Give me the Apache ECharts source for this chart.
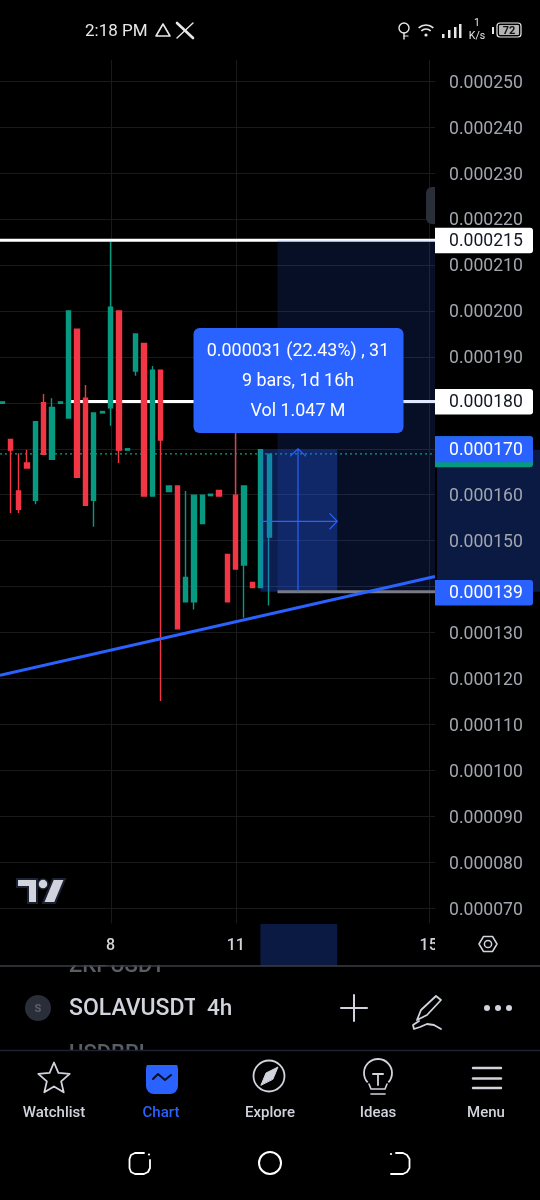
<!DOCTYPE html>
<html><head><meta charset="utf-8">
<style>html,body{margin:0;padding:0;background:#000}#c{width:540px;height:1200px}</style>
<script src="https://cdn.jsdelivr.net/npm/echarts@6/dist/echarts.min.js"></script>
</head><body><div id="c"></div>
<script>
const barIndex=[0,1,2,3,4,5,6,7,8,9,10,11,12,13,14,15,16,17,18,19,20,21,22,23,24,25,26,27,28,29,30,31,32];
const opens=[0.0001799,0.000172,0.0001608,0.0001669,0.0001588,0.00018,0.0001677,0.0001799,0.0001767,0.000196,0.000181,0.0001588,0.0001778,0.0001789,0.0002,0.0001697,0.0001869,0.0001929,0.0001597,0.0001871,0.0001607,0.0001619,0.0001367,0.0001367,0.0001537,0.0001598,0.0001609,0.000147,0.0001599,0.0001447,0.0001409,0.0001398,0.0001508];
const closes=[0.0001802,0.0001697,0.0001568,0.0001658,0.0001759,0.0001688,0.000179,0.0001802,0.0002,0.0001638,0.0001577,0.0001778,0.0001781,0.0002008,0.0001697,0.00017,0.000195,0.0001597,0.0001871,0.0001719,0.0001619,0.0001308,0.000142,0.0001599,0.0001599,0.0001601,0.0001597,0.0001367,0.0001438,0.0001619,0.0001398,0.0001698,0.0001688];
const lows=[0.0001799,0.000156,0.000156,0.0001658,0.0001579,0.0001688,0.0001677,0.0001799,0.0001767,0.0001638,0.0001577,0.000153,0.0001778,0.000175,0.0001669,0.0001697,0.0001859,0.0001597,0.0001597,0.0001151,0.0001607,0.0001308,0.0001367,0.000135,0.0001537,0.0001598,0.0001597,0.0001367,0.0001438,0.0001332,0.0001398,0.0001398,0.0001359];
const highs=[0.0001802,0.000172,0.000169,0.0001698,0.0001759,0.0001819,0.000181,0.0001802,0.0002,0.000196,0.0001839,0.0001778,0.0001781,0.000215,0.0002,0.00017,0.000195,0.0001929,0.000188,0.0001871,0.0001619,0.0001619,0.0001608,0.0001599,0.0001599,0.0001601,0.0001609,0.000147,0.000175,0.0001619,0.0001409,0.0001698,0.0001689];
const dayTicks=[13,28,51.1];
const dayLabels=['8','11','15'];
const xMin=-0.24, xMax=51.86;
const yMin=0.00006, yMax=0.00026, yStep=0.00001;
const yTop=0.0002546, yBottom=0.0000667;
const resistanceHigh=0.0002154, resistanceLow=0.0001803, lastPrice=0.0001689, stopPrice=0.0001389;
const trendLine=[[xMin,0.0001207],[xMax,0.0001422]];
const positionZone=[[33,xMax,0.0001389,0.0002154,0.15]];
const rangeZone=[[30.95,40.15,0.0001389,0.0001698,0.3]];
const arrows=[[35.45,0.0001389,35.45,0.000170],[30.95,0.0001542,40.15,0.0001542]];
const priceTags=[[0.0002154,'0.000215','#ffffff','#131722',0],[0.0001803,'0.000180','#ffffff','#131722',0],[0.00017,'0.000170','#2962ff','#ffffff',1],[0.0001387,'0.000139','#2962ff','#ffffff',0]];
const tooltipLines=['0.000031 (22.43%) , 31','9 bars, 1d 16h','Vol 1.047 M'];
const navItems=[['Watchlist',54,'#d1d4dc'],['Chart',161,'#2962ff'],['Explore',270,'#d1d4dc'],['Ideas',378,'#d1d4dc'],['Menu',486,'#d1d4dc']];

const GREEN='#089981',RED='#f23645',BLUE='#2962ff',GRID='#1a1a1d',F='Roboto';
const candleData=barIndex.map((x,i)=>[x,opens[i],closes[i],lows[i],highs[i]]);

function rectRender(params,api){
  const a=api.coord([api.value(0),api.value(3)]),b=api.coord([api.value(1),api.value(2)]);
  return {type:'rect',shape:{x:a[0],y:a[1],width:b[0]-a[0],height:b[1]-a[1]},style:{fill:'rgba(41,98,255,'+api.value(4)+')'}};
}
function arrowRender(params,api){
  const a=api.coord([api.value(0),api.value(1)]),b=api.coord([api.value(2),api.value(3)]);
  const ang=Math.atan2(b[1]-a[1],b[0]-a[0]),h=11;
  const p1=[b[0]-h*Math.cos(ang-0.8),b[1]-h*Math.sin(ang-0.8)],p2=[b[0]-h*Math.cos(ang+0.8),b[1]-h*Math.sin(ang+0.8)];
  const st={stroke:BLUE,lineWidth:1.2,fill:null};
  return {type:'group',children:[{type:'line',shape:{x1:a[0],y1:a[1],x2:b[0],y2:b[1]},style:st},{type:'polyline',shape:{points:[p1,b,p2]},style:st}]};
}
function tagRender(params,api){
  const i=params.dataIndex,t=priceTags[i],y=api.coord([0,t[0]])[1],h=t[4]?31:25.5,top=y-12.5;
  const ch=[{type:'rect',shape:{x:435,y:top,width:98,height:h,r:[0,3,3,0]},style:{fill:t[4]?GREEN:t[2]}}];
  if(t[4])ch.push({type:'rect',shape:{x:435,y:top,width:98,height:26,r:[0,3,0,0]},style:{fill:t[2]}});
  ch.push({type:'text',style:{x:449,y:y+1.5,text:t[1],fill:t[3],font:'400 17.6px '+F,textAlign:'left',textVerticalAlign:'middle'}});
  return {type:'group',children:ch};
}
const G=[];
const rect=(x,y,w,h,fill,z,r)=>G.push({type:'rect',z:z||30,silent:true,shape:{x,y,width:w,height:h,r:r||0},style:{fill}});
const line=(x1,y1,x2,y2,stroke,w,z)=>G.push({type:'line',z:z||30,silent:true,shape:{x1,y1,x2,y2},style:{stroke,lineWidth:w||1.5,lineCap:'round'}});
const poly=(pts,stroke,w,fill,close)=>G.push({type:close?'polygon':'polyline',z:30,silent:true,shape:{points:pts},style:{stroke,lineWidth:w||1.5,fill:fill||null,lineJoin:'round',lineCap:'round'}});
const circ=(cx,cy,r,stroke,w,fill,z)=>G.push({type:'circle',z:z||30,silent:true,shape:{cx,cy,r},style:{stroke,lineWidth:w||0,fill:fill||null}});
const arc=(cx,cy,r,a0,a1,stroke,w)=>G.push({type:'arc',z:30,silent:true,shape:{cx,cy,r,startAngle:a0,endAngle:a1},style:{stroke,lineWidth:w||1.5,fill:null}});
const txt=(x,y,text,fill,font,align,z)=>G.push({type:'text',z:z||31,silent:true,style:{x,y:y+1.5,text,fill,font:font+' '+F,textAlign:align||'left',textVerticalAlign:'middle'}});

/* strip to the right of the plot under the date row */
rect(435,924,105,42,'#000',1);
/* pane scrollbar handle */
rect(426,187,9,37,'#2a2e39',6,[6,0,0,6]);
/* tooltip */
rect(193.5,328,210,105,BLUE,40,6);
tooltipLines.forEach((s,i)=>txt(298,[350.5,380,410][i],s,'#fff','400 17.9px','center',41));
/* tradingview mark */
const lg=(pts)=>G.push({type:'polygon',z:30,silent:true,shape:{points:pts},style:{fill:'#d1d4dc',stroke:'#1b2233',lineWidth:2}});
lg([[17,879],[37,879],[37,903],[28,903],[28,887],[17,887]]);
lg([[53,879],[65,879],[55,903],[43,903]]);
circ(43,884,5,'#1b2233',1.5,'#d1d4dc');
/* settings */
poly([[479,944],[483.5,936.5],[492.5,936.5],[497,944],[492.5,951.5],[483.5,951.5]],'#d1d4dc',1.5,null,true);
circ(488,944,3.6,'#d1d4dc',1.5);
/* symbol strip */
txt(69,965,'ZKPUSDT','#5a5d66','500 22px');
rect(60,950,130,15,'#000',32);
line(0,966,540,966,'#3b3e45',1.5,33);
txt(69,1053,'USDBRL','#5a5d66','500 22px');
rect(60,1051,130,14,'#000',32);
line(0,1050.5,540,1050.5,'#1d2230',1.5,33);
circ(38,1008,13,null,0,'#2a2e39');
txt(38,1007.5,'S','#5d606b','700 11px','center');
txt(69,1007.5,'SOLAVUSDT','#d1d4dc','500 23px');
rect(195,990,10,36,'#000',32);
txt(207,1007.5,'4h','#d1d4dc','500 22.5px');
line(341,1008,367,1008,'#d1d4dc',2);line(354,995,354,1021,'#d1d4dc',2);
poly([[417,1020],[421,1010],[436,996],[441,1000],[427,1015],[417,1020]],'#d1d4dc',1.8,null,true);
poly([[419,1021],[413,1025],[414,1029],[420,1027],[427,1024],[434,1025],[441,1029]],'#d1d4dc',1.8);
[487,498,509].forEach(x=>circ(x,1008,3,null,0,'#d1d4dc'));
/* nav */
navItems.forEach(n=>txt(n[1],1112,n[0],n[2],'500 15px','center'));
const star=[];for(let i=0;i<10;i++){const r=i%2?7.5:16.5,a=-Math.PI/2+i*Math.PI/5;star.push([54+r*Math.cos(a),1079+r*Math.sin(a)]);}
poly(star,'#d1d4dc',1.8,null,true);
rect(146,1061,32,33,BLUE,30,8);
poly([[153,1079],[158,1074],[165,1080],[171,1075]],'#0a0f1e',2);
circ(269,1076,15.5,'#d1d4dc',1.8);
poly([[261,1085],[266,1073],[278,1067],[273,1079]],'#d1d4dc',1,'#d1d4dc',true);
arc(378,1073,14,2.4,0.74,'#d1d4dc',1.8);
poly([[369,1084],[371,1089],[385,1089],[387,1084]],'#d1d4dc',1.6);
poly([[371,1094],[385,1094]],'#d1d4dc',1.6);
poly([[373,1074],[383,1074]],'#d1d4dc',2);poly([[378,1074],[378,1085]],'#d1d4dc',1.8);
[1068,1078.5,1088].forEach(y=>line(473,y,501,y,'#d1d4dc',2.4));
/* system nav */
poly([[144,1153],[135,1153],[131,1155],[129.5,1159],[129.5,1168],[131,1172],[135,1174],[144,1174],[148,1172],[150,1168],[150,1160]],'#fff',1.8);
circ(149,1154.5,1.1,null,0,'#fff');
circ(270,1163,11,'#fff',2);
poly([[396,1153],[403,1153],[407,1155],[409.5,1159],[409.5,1168],[407,1172],[403,1174],[391,1174]],'#fff',1.8);
circ(391,1154,1.1,null,0,'#fff');
/* status bar */
txt(85,30,'2:18 PM','#e8e8e8','400 17px');
poly([[163,24],[170,36],[156,36]],'#e8e8e8',1.6,null,true);
line(177,23,193,38,'#e8e8e8',2.6);line(193,23,177,38,'#e8e8e8',1.4);
circ(404,28,5,'#e8e8e8',1.4);line(404,33,404,39,'#e8e8e8',1.4);line(404,36,408,36,'#e8e8e8',1.2);
arc(426,36,11,-2.3,-0.84,'#e8e8e8',1.7);arc(426,36,7,-2.3,-0.84,'#e8e8e8',1.7);circ(426,35,1.6,null,0,'#e8e8e8');
rect(442,34,2.5,4,'#e8e8e8',30);rect(448,30,2.5,8,'#e8e8e8',30);rect(454,27,2.5,11,'#e8e8e8',30);rect(459,24,2.5,14,'#e8e8e8',30);
txt(477,22,'1','#e8e8e8','400 10.5px','center');txt(477,35,'K/s','#e8e8e8','400 10.5px','center');
rect(492,27,2,7,'#e8e8e8',30);
G.push({type:'rect',z:30,silent:true,shape:{x:497,y:23,width:24,height:14,r:3},style:{stroke:'#e8e8e8',lineWidth:1.2,fill:null}});
rect(499,25,20,10,'#b4b4b4',30,1);
txt(509,29.5,'72','#111','700 11px','center');

const chart=echarts.init(document.getElementById('c'),null,{renderer:'canvas'});
chart.setOption({
  animation:false,backgroundColor:'#000',
  grid:[{left:0,width:435,top:35.3,height:918.8,containLabel:false},{left:0,width:435,top:37.3,height:918.8,containLabel:false}],
  xAxis:[{type:'value',min:xMin,max:xMax,axisLine:{show:false},axisTick:{show:false},splitLine:{show:false},
    axisLabel:{customValues:dayTicks,formatter:v=>dayLabels[dayTicks.indexOf(v)]||'',color:'#d1d4dc',fontFamily:F,fontWeight:500,fontSize:16,margin:0,verticalAlign:'top'},offset:-16},
    {type:'value',gridIndex:1,show:false,min:xMin,max:xMax}],
  yAxis:[
    {type:'value',min:yMin,max:yMax,interval:yStep,axisLine:{show:false},axisTick:{show:false},axisLabel:{show:false},
     splitLine:{show:true,showMinLine:false,showMaxLine:false,lineStyle:{color:GRID,width:1}}},
    {type:'value',gridIndex:1,position:'right',z:10,min:yMin,max:yMax,interval:yStep,axisLine:{show:false},axisTick:{show:false},splitLine:{show:false},
     axisLabel:{margin:14,align:'left',color:'#a3a6af',fontFamily:F,fontSize:17.6,showMinLabel:false,showMaxLabel:false,
       formatter:v=>(v<yMin*1.01||v>yMax*0.99)?'':v.toFixed(6)}}
  ],
  series:[
    {name:'Price axis band',type:'custom',z:1,silent:true,data:[[0,rangeZone[0][2],rangeZone[0][3]]],
     renderItem:(p,api)=>{const a=api.coord([0,api.value(2)])[1],b=api.coord([0,api.value(1)])[1];return {type:'rect',shape:{x:437,y:a,width:103,height:b-a},style:{fill:'#0a1a42'}};}},
    {name:'Date axis band',type:'custom',z:1,silent:true,data:[[rangeZone[0][0],rangeZone[0][1]]],
     renderItem:(p,api)=>{const a=api.coord([api.value(0),yMin])[0],b=api.coord([api.value(1),yMin])[0];return {type:'rect',shape:{x:a,y:924,width:b-a,height:42},style:{fill:'#0a1a42'}};}},
    {name:'Day grid',type:'custom',z:1,silent:true,data:dayTicks.map(d=>[d]),
     renderItem:(p,api)=>{const a=api.coord([api.value(0),yTop]),b=api.coord([api.value(0),yBottom]);return {type:'line',shape:{x1:Math.round(a[0])+.5,y1:a[1],x2:Math.round(a[0])+.5,y2:b[1]},style:{stroke:GRID,lineWidth:1}};}},
    {name:'Resistance high',type:'line',z:1,silent:true,symbol:'none',data:[[xMin,resistanceHigh],[xMax,resistanceHigh]],lineStyle:{color:'#fff',width:3}},
    {name:'Resistance low',type:'line',z:1,silent:true,symbol:'none',data:[[8,resistanceLow],[xMax,resistanceLow]],lineStyle:{color:'#fff',width:3}},
    {name:'Last price',type:'line',z:1,silent:true,symbol:'none',data:[[xMin,lastPrice],[xMax,lastPrice]],lineStyle:{color:'#0c9f87',width:1.2,type:[2,3]}},
    {name:'SOLAVUSDT',type:'candlestick',z:2,silent:true,barWidth:4.8,data:candleData,encode:{x:0,y:[1,2,3,4]},
     itemStyle:{color:GREEN,color0:RED,borderColor:GREEN,borderColor0:RED,borderWidth:1.4}},
    {name:'Position zone',type:'custom',z:3,silent:true,data:positionZone,renderItem:rectRender},
    {name:'Range zone',type:'custom',z:3,silent:true,data:rangeZone,renderItem:rectRender},
    {name:'Stop',type:'line',z:4,silent:true,symbol:'none',data:[[33,stopPrice],[xMax,stopPrice]],lineStyle:{color:'#787b86',width:3}},
    {name:'Trend',type:'line',z:5,silent:true,symbol:'none',data:trendLine,lineStyle:{color:BLUE,width:3}},
    {name:'Arrows',type:'custom',z:5,silent:true,data:arrows,renderItem:arrowRender},
    {name:'Price tags',type:'custom',z:20,silent:true,data:priceTags.map(t=>[0,t[0]]),renderItem:tagRender}
  ],
  graphic:{elements:G}
});
</script></body></html>
